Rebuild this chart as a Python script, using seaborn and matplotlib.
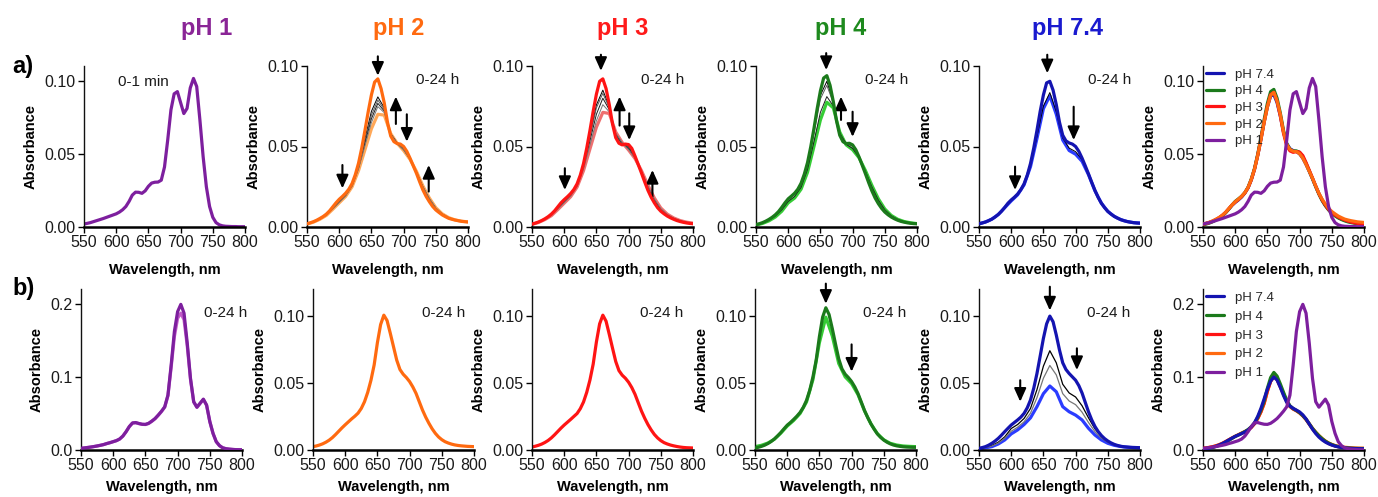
import numpy as np
import matplotlib
matplotlib.use("Agg")
import matplotlib.pyplot as plt
from matplotlib.ticker import FormatStrFormatter
import seaborn as sns

# ---------------- data ----------------
WL5 = list(range(550, 801, 5))    # 51 points
WL10 = list(range(550, 801, 10))  # 26 points

# pH 1, 0-1 min (row a)
PH1_A = [.0020, .0025, .0030, .0037, .0044, .0051, .0058, .0066, .0074, .0082,
         .0090, .0102, .0118, .0140, .0175, .0218, .0238, .0237, .0230, .0247,
         .0278, .0300, .0306, .0307, .0320, .0410, .0595, .0800, .0910, .0925,
         .0850, .0775, .0810, .0950, .1015, .0960, .0730, .0480, .0275, .0140,
         .0066, .0030, .0015, .0008, .0005, .0004, .0003, .0003, .0002, .0002, .0002]

# pH 1, 0-24 h (row b)
PH1_B_START = [.0023, .0028, .0034, .0040, .0047, .0055, .0064, .0074, .0088, .0100,
               .0114, .0128, .0150, .0190, .0250, .0320, .0370, .0375, .0362, .0352,
               .0350, .0365, .0395, .0430, .0478, .0530, .0590, .0750, .1160, .1620,
               .1890, .1990, .1870, .1460, .0980, .0660, .0585, .0640, .0695, .0615,
               .0390, .0228, .0114, .0060, .0030, .0018, .0012, .0008, .0005, .0004, .0003]
PH1_B_END = [.0023, .0028, .0034, .0040, .0047, .0055, .0064, .0074, .0088, .0100,
             .0114, .0128, .0150, .0190, .0250, .0320, .0368, .0372, .0360, .0350,
             .0348, .0362, .0392, .0427, .0474, .0525, .0585, .0740, .1130, .1550,
             .1800, .1870, .1780, .1420, .0965, .0655, .0582, .0636, .0690, .0610,
             .0388, .0226, .0113, .0060, .0030, .0018, .0012, .0008, .0005, .0004, .0003]

# pH 2, 0-24 h (row a)
A2_START = [.0020, .0026, .0033, .0042, .0053, .0065, .0080, .0100, .0125, .0150,
            .0172, .0190, .0210, .0235, .0270, .0325, .0396, .0490, .0600, .0715,
            .0820, .0900, .0920, .0860, .0770, .0650, .0565, .0530, .0518, .0515,
            .0500, .0470, .0427, .0380, .0333, .0280, .0230, .0190, .0157, .0128,
            .0106, .0090, .0075, .0064, .0054, .0048, .0043, .0039, .0035, .0033, .0031]
A2_MID = [
    [.0019, .0032, .0051, .0077, .0118, .0162, .0200, .0262, .0378, .0548, .0718, .0808, .0740,
     .0575, .0520, .0488, .0424, .0338, .0242, .0168, .0112, .0078, .0056, .0043, .0035, .0031],
    [.0019, .0031, .0050, .0076, .0116, .0159, .0198, .0259, .0372, .0535, .0695, .0788, .0730,
     .0577, .0520, .0485, .0423, .0340, .0245, .0171, .0114, .0079, .0057, .0043, .0035, .0031],
    [.0018, .0031, .0049, .0075, .0114, .0156, .0196, .0256, .0366, .0520, .0672, .0768, .0720,
     .0578, .0520, .0482, .0422, .0341, .0248, .0174, .0116, .0080, .0057, .0044, .0036, .0032],
    [.0018, .0030, .0049, .0074, .0112, .0153, .0193, .0253, .0360, .0505, .0648, .0748, .0710,
     .0579, .0520, .0479, .0421, .0343, .0251, .0177, .0118, .0081, .0058, .0044, .0036, .0032],
]
A2_END = [.0018, .0030, .0048, .0072, .0110, .0150, .0190, .0250, .0350, .0480, .0610, .0700, .0695,
          .0580, .0520, .0475, .0420, .0345, .0255, .0180, .0120, .0082, .0058, .0044, .0036, .0032]

# pH 3, 0-24 h (row a)
A3_START = [.0018, .0024, .0031, .0040, .0051, .0064, .0080, .0100, .0125, .0150,
            .0170, .0188, .0208, .0233, .0268, .0322, .0394, .0490, .0600, .0718,
            .0825, .0905, .0920, .0860, .0760, .0640, .0555, .0520, .0510, .0515,
            .0512, .0488, .0440, .0388, .0335, .0280, .0228, .0185, .0150, .0120,
            .0098, .0082, .0068, .0057, .0048, .0040, .0034, .0029, .0025, .0022, .0020]
A3_MID = [
    [.0017, .0030, .0050, .0077, .0120, .0162, .0202, .0262, .0385, .0572, .0758, .0850, .0748,
     .0568, .0515, .0500, .0434, .0339, .0237, .0158, .0102, .0070, .0050, .0036, .0027, .0022],
    [.0017, .0030, .0049, .0076, .0118, .0160, .0200, .0260, .0380, .0560, .0740, .0830, .0740,
     .0572, .0517, .0495, .0432, .0341, .0241, .0162, .0105, .0072, .0051, .0037, .0028, .0022],
    [.0017, .0029, .0048, .0074, .0115, .0156, .0196, .0256, .0370, .0535, .0700, .0800, .0728,
     .0578, .0520, .0488, .0430, .0344, .0248, .0168, .0109, .0075, .0053, .0038, .0029, .0023],
    [.0016, .0029, .0047, .0072, .0111, .0152, .0192, .0252, .0360, .0510, .0660, .0760, .0715,
     .0584, .0522, .0482, .0427, .0347, .0254, .0174, .0114, .0078, .0055, .0039, .0030, .0024],
]
A3_END = [.0016, .0028, .0046, .0070, .0108, .0148, .0188, .0248, .0350, .0485, .0620, .0712, .0705,
          .0590, .0525, .0478, .0425, .0350, .0260, .0180, .0118, .0080, .0056, .0040, .0030, .0024]

# pH 4, 0-24 h (row a)
A4_START = [.0015, .0020, .0027, .0036, .0047, .0060, .0076, .0096, .0122, .0150,
            .0175, .0192, .0210, .0235, .0272, .0328, .0400, .0498, .0612, .0735,
            .0845, .0925, .0940, .0880, .0780, .0660, .0570, .0530, .0518, .0520,
            .0510, .0480, .0435, .0383, .0330, .0275, .0224, .0180, .0145, .0116,
            .0093, .0076, .0062, .0051, .0042, .0035, .0030, .0026, .0023, .0021, .0020]
A4_MID = [
    [.0014, .0026, .0046, .0074, .0120, .0172, .0207, .0268, .0393, .0595, .0818, .0905, .0778,
     .0572, .0520, .0505, .0434, .0333, .0228, .0148, .0095, .0063, .0043, .0031, .0024, .0020],
    [.0014, .0026, .0045, .0073, .0118, .0168, .0203, .0263, .0384, .0580, .0795, .0880, .0770,
     .0577, .0518, .0500, .0433, .0336, .0233, .0153, .0098, .0065, .0044, .0032, .0025, .0020],
    [.0013, .0024, .0041, .0067, .0106, .0158, .0190, .0246, .0357, .0530, .0712, .0810, .0752,
     .0585, .0513, .0488, .0431, .0345, .0249, .0167, .0107, .0070, .0047, .0033, .0026, .0021],
]
A4_END = [.0012, .0022, .0038, .0062, .0098, .0150, .0180, .0235, .0340, .0500, .0665, .0775, .0740,
          .0590, .0510, .0480, .0430, .0350, .0258, .0175, .0112, .0072, .0048, .0034, .0026, .0021]

# pH 7.4, 0-24 h (row a)
A5_START = [.0020, .0025, .0031, .0039, .0049, .0062, .0078, .0098, .0122, .0148,
            .0168, .0185, .0205, .0232, .0268, .0322, .0395, .0490, .0600, .0718,
            .0820, .0895, .0905, .0850, .0760, .0650, .0570, .0535, .0522, .0515,
            .0500, .0470, .0428, .0380, .0330, .0278, .0228, .0184, .0148, .0120,
            .0097, .0080, .0066, .0055, .0046, .0039, .0034, .0030, .0027, .0025, .0024]
A5_MID = [
    [.0020, .0031, .0049, .0078, .0121, .0164, .0202, .0264, .0380, .0560, .0750, .0835, .0715,
     .0552, .0490, .0468, .0418, .0328, .0226, .0148, .0097, .0066, .0046, .0034, .0027, .0024],
]
A5_END = [.0020, .0031, .0049, .0078, .0120, .0162, .0200, .0262, .0375, .0550, .0735, .0815, .0700,
          .0540, .0475, .0452, .0408, .0325, .0225, .0148, .0097, .0066, .0046, .0034, .0027, .0024]

# row b: pH 2, pH 3 (stable)
B2 = [.0025, .0030, .0037, .0046, .0058, .0073, .0092, .0115, .0140, .0165,
      .0188, .0210, .0232, .0252, .0275, .0310, .0360, .0430, .0520, .0635,
      .0800, .0935, .1005, .0965, .0870, .0770, .0670, .0600, .0565, .0540,
      .0510, .0470, .0422, .0360, .0298, .0245, .0199, .0158, .0124, .0097,
      .0077, .0062, .0052, .0044, .0038, .0034, .0031, .0029, .0027, .0026, .0025]
B3 = [.0022, .0028, .0035, .0044, .0056, .0071, .0090, .0113, .0138, .0163,
      .0186, .0207, .0228, .0250, .0272, .0308, .0358, .0430, .0522, .0640,
      .0805, .0940, .1005, .0960, .0862, .0760, .0660, .0592, .0558, .0535,
      .0505, .0465, .0415, .0352, .0290, .0237, .0190, .0150, .0116, .0090,
      .0070, .0055, .0045, .0037, .0031, .0026, .0022, .0019, .0017, .0016, .0015]

# row b: pH 4
B4_START = [.0015, .0020, .0027, .0036, .0048, .0063, .0082, .0105, .0130, .0158,
            .0185, .0205, .0228, .0252, .0280, .0318, .0370, .0445, .0545, .0670,
            .0845, .0990, .1060, .1010, .0905, .0790, .0680, .0605, .0565, .0540,
            .0510, .0470, .0420, .0358, .0295, .0242, .0195, .0155, .0120, .0094,
            .0074, .0058, .0046, .0037, .0031, .0027, .0024, .0022, .0021, .0020, .0020]
B4_END = [.0025, .0035, .0052, .0080, .0125, .0178, .0220, .0272, .0358, .0525, .0800, .0990, .0850,
          .0645, .0545, .0495, .0412, .0292, .0195, .0122, .0076, .0050, .0037, .0030, .0027, .0025]

# row b: pH 7.4
B5_START = [.0012, .0018, .0025, .0036, .0050, .0067, .0087, .0111, .0137, .0162,
            .0186, .0205, .0224, .0245, .0273, .0315, .0373, .0460, .0570, .0700,
            .0832, .0940, .0998, .0956, .0857, .0745, .0650, .0600, .0570, .0545,
            .0520, .0480, .0425, .0355, .0285, .0225, .0176, .0138, .0108, .0085,
            .0067, .0053, .0042, .0034, .0028, .0024, .0022, .0020, .0019, .0018, .0017]
B5_MID = [
    [.0012, .0020, .0034, .0058, .0098, .0160, .0190, .0235, .0310, .0450, .0625, .0740, .0650,
     .0490, .0425, .0395, .0330, .0240, .0158, .0100, .0064, .0041, .0029, .0022, .0019, .0017],
    [.0011, .0018, .0030, .0052, .0088, .0140, .0170, .0210, .0275, .0390, .0535, .0630, .0560,
     .0420, .0365, .0338, .0282, .0205, .0137, .0089, .0058, .0038, .0027, .0021, .0018, .0016],
]
B5_END = [.0010, .0016, .0025, .0045, .0075, .0120, .0150, .0190, .0240, .0323, .0420, .0477, .0434,
          .0323, .0285, .0260, .0224, .0162, .0112, .0075, .0050, .0035, .0026, .0021, .0017, .0015]

TITLES = ["pH 1", "pH 2", "pH 3", "pH 4", "pH 7.4"]
LEGEND_LABELS = ["pH 7.4", "pH 4", "pH 3", "pH 2", "pH 1"]
X_TICKS = [550, 600, 650, 700, 750, 800]

# ---------------- style ----------------
PURPLE, PURPLE_L = "#7D1F9E", "#C25BC9"
ORANGE, ORANGE_L = "#FF6A10", "#FFA858"
RED, RED_L = "#FF1414", "#EE7070"
GREEN, GREEN_L = "#1B7A1B", "#35CC35"
BLUE, BLUE_L = "#1414B0", "#2B3CFF"
TITLE_COLORS = ["#8A2596", "#FF6A10", "#FF1A1A", "#1E8A1E", "#1A1ACF"]
MID_COLORS = ["#000000", "#5a5a5a", "#1e1e1e", "#777777"]

sns.set_theme(style="ticks")
plt.rcParams["font.family"] = ["Liberation Sans", "DejaVu Sans"]

fig = plt.figure(figsize=(13.78, 4.97), dpi=100)
W, H = 1378.0, 497.0
PW, PH = 161.0, 161.0
lefts_a = [84, 307, 532, 756, 979, 1203]
lefts_b = [81, 313, 532, 755, 979, 1203]
axes_a = [fig.add_axes([l / W, 1 - 227 / H, PW / W, PH / H]) for l in lefts_a]
axes_b = [fig.add_axes([l / W, 1 - 450 / H, PW / W, PH / H]) for l in lefts_b]


def style(ax, ymax, yticks, fmt, xpad=9):
    ax.set_xlim(550, 800)
    ax.set_ylim(0, ymax)
    ax.set_xticks(X_TICKS)
    ax.set_yticks(yticks)
    ax.yaxis.set_major_formatter(FormatStrFormatter(fmt))
    sns.despine(ax=ax)
    ax.spines["left"].set_linewidth(1.0)
    ax.spines["bottom"].set_linewidth(1.8)
    ax.spines["left"].set_color("#111111")
    ax.spines["bottom"].set_color("black")
    ax.tick_params(direction="out", length=4, width=1.0, pad=2, labelsize=11.5,
                   color="black", labelcolor="#1a1a1a")
    ax.set_xlabel("Wavelength, nm", fontweight="bold", fontsize=10.5, labelpad=xpad, color="black")
    ax.set_ylabel("Absorbance", fontweight="bold", fontsize=10.5, labelpad=5, color="black")


def line(ax, x, y, color, lw, z=2, label=None):
    sns.lineplot(x=x, y=y, ax=ax, color=color, linewidth=lw, zorder=z,
                 label=label, legend=False, estimator=None, sort=False)


def arrows(ax, specs):
    for (x, yt, yh) in specs:
        ax.annotate("", xy=(x, yh), xytext=(x, yt), annotation_clip=False,
                    arrowprops=dict(arrowstyle="-|>,head_length=0.8,head_width=0.36",
                                    color="black", lw=1.5, shrinkA=0, shrinkB=0,
                                    mutation_scale=10))


def label_text(ax, s, x, y):
    ax.text(x, y, s, transform=ax.transAxes, ha="left", va="center",
            fontsize=11, color="#1a1a1a")


THICK = 2.3
THIN = 0.7
BPAD = 4.5

# ----- row a -----
ax = axes_a[0]
line(ax, WL5, PH1_A, PURPLE, THICK)
style(ax, 0.11, [0.0, 0.05, 0.10], "%.2f")
label_text(ax, "0-1 min", 0.21, 0.90)

for ax, start, mids, end, c0, c1, arr in [
    (axes_a[1], A2_START, A2_MID, A2_END, ORANGE, ORANGE_L,
     [(660, 0.106, 0.094), (688, 0.064, 0.081), (705, 0.070, 0.053), (605, 0.0385, 0.024), (739, 0.022, 0.0385)]),
    (axes_a[2], A3_START, A3_MID, A3_END, RED, RED_L,
     [(657, 0.107, 0.097), (686, 0.063, 0.081), (701, 0.0706, 0.054), (601, 0.0365, 0.023), (737, 0.019, 0.0354)]),
    (axes_a[3], A4_START, A4_MID, A4_END, GREEN, GREEN_L,
     [(659, 0.108, 0.0975), (682, 0.0665, 0.081), (700, 0.0716, 0.056)]),
    (axes_a[4], A5_START, A5_MID, A5_END, BLUE, BLUE_L,
     [(656, 0.107, 0.0955), (697, 0.0747, 0.054), (606, 0.0375, 0.023)]),
]:
    for i, m in enumerate(mids):
        line(ax, WL10, m, MID_COLORS[i % len(MID_COLORS)], THIN, z=3)
    line(ax, WL10, end, c1, THICK, z=2)
    line(ax, WL5, start, c0, THICK, z=4)
    style(ax, 0.10, [0.0, 0.05, 0.10], "%.2f")
    label_text(ax, "0-24 h", 0.68, 0.91)
    arrows(ax, arr)

ax = axes_a[5]
line(ax, WL5, A5_START, BLUE, THICK, z=2, label=LEGEND_LABELS[0])
line(ax, WL5, A4_START, GREEN, THICK, z=3, label=LEGEND_LABELS[1])
line(ax, WL5, A3_START, RED, THICK, z=4, label=LEGEND_LABELS[2])
line(ax, WL5, A2_START, ORANGE, THICK, z=5, label=LEGEND_LABELS[3])
line(ax, WL5, PH1_A, PURPLE, THICK, z=6, label=LEGEND_LABELS[4])
style(ax, 0.11, [0.0, 0.05, 0.10], "%.2f")
ax.legend(loc="upper left", frameon=False, fontsize=9.5, handlelength=1.4,
          handletextpad=0.8, labelspacing=0.33, borderpad=0.1, borderaxespad=0.1)

# ----- row b -----
ax = axes_b[0]
line(ax, WL5, PH1_B_END, PURPLE_L, THICK, z=2)
line(ax, WL5, PH1_B_START, PURPLE, THICK, z=3)
style(ax, 0.22, [0.0, 0.1, 0.2], "%.1f", xpad=BPAD)
label_text(ax, "0-24 h", 0.765, 0.85)

ax = axes_b[1]
line(ax, WL5, B2, ORANGE, THICK)
style(ax, 0.12, [0.0, 0.05, 0.10], "%.2f", xpad=BPAD)
label_text(ax, "0-24 h", 0.68, 0.85)

ax = axes_b[2]
line(ax, WL5, B3, RED, THICK)
style(ax, 0.12, [0.0, 0.05, 0.10], "%.2f", xpad=BPAD)
label_text(ax, "0-24 h", 0.67, 0.85)

ax = axes_b[3]
line(ax, WL10, B4_END, GREEN_L, THICK, z=2)
line(ax, WL5, B4_START, GREEN, THICK, z=3)
style(ax, 0.12, [0.0, 0.05, 0.10], "%.2f", xpad=BPAD)
label_text(ax, "0-24 h", 0.67, 0.85)
arrows(ax, [(660, 0.124, 0.109), (700, 0.0787, 0.0584)])

ax = axes_b[4]
for i, m in enumerate(B5_MID):
    line(ax, WL10, m, MID_COLORS[i + 2] if i else MID_COLORS[0], THIN + 0.2, z=3)
line(ax, WL10, B5_END, BLUE_L, THICK, z=2)
line(ax, WL5, B5_START, BLUE, THICK, z=4)
style(ax, 0.12, [0.0, 0.05, 0.10], "%.2f", xpad=BPAD)
label_text(ax, "0-24 h", 0.67, 0.85)
arrows(ax, [(660, 0.1217, 0.104), (702, 0.0758, 0.0596), (614, 0.052, 0.036)])

ax = axes_b[5]
line(ax, WL5, B5_START, BLUE, THICK, z=5, label=LEGEND_LABELS[0])
line(ax, WL5, B4_START, GREEN, THICK, z=4, label=LEGEND_LABELS[1])
line(ax, WL5, B3, RED, THICK, z=3, label=LEGEND_LABELS[2])
line(ax, WL5, B2, ORANGE, THICK, z=2, label=LEGEND_LABELS[3])
line(ax, WL5, PH1_B_START, PURPLE, THICK, z=6, label=LEGEND_LABELS[4])
style(ax, 0.22, [0.0, 0.1, 0.2], "%.1f", xpad=BPAD)
ax.legend(loc="upper left", frameon=False, fontsize=9.5, handlelength=1.4,
          handletextpad=0.8, labelspacing=0.5, borderpad=0.1, borderaxespad=0.1)

# ----- titles & panel letters -----
for t, xc, c in zip(TITLES, [207, 399, 623, 841, 1068], TITLE_COLORS):
    fig.text(xc / W, 1 - 28 / H, t, ha="center", va="center", fontsize=17,
             fontweight="bold", color=c)
fig.text(12 / W, 1 - 66 / H, "a)", ha="left", va="center", fontsize=17, fontweight="bold", color="black")
fig.text(12 / W, 1 - 289 / H, "b)", ha="left", va="center", fontsize=17, fontweight="bold", color="black")

fig.savefig("out.png", dpi=100, facecolor="white")
